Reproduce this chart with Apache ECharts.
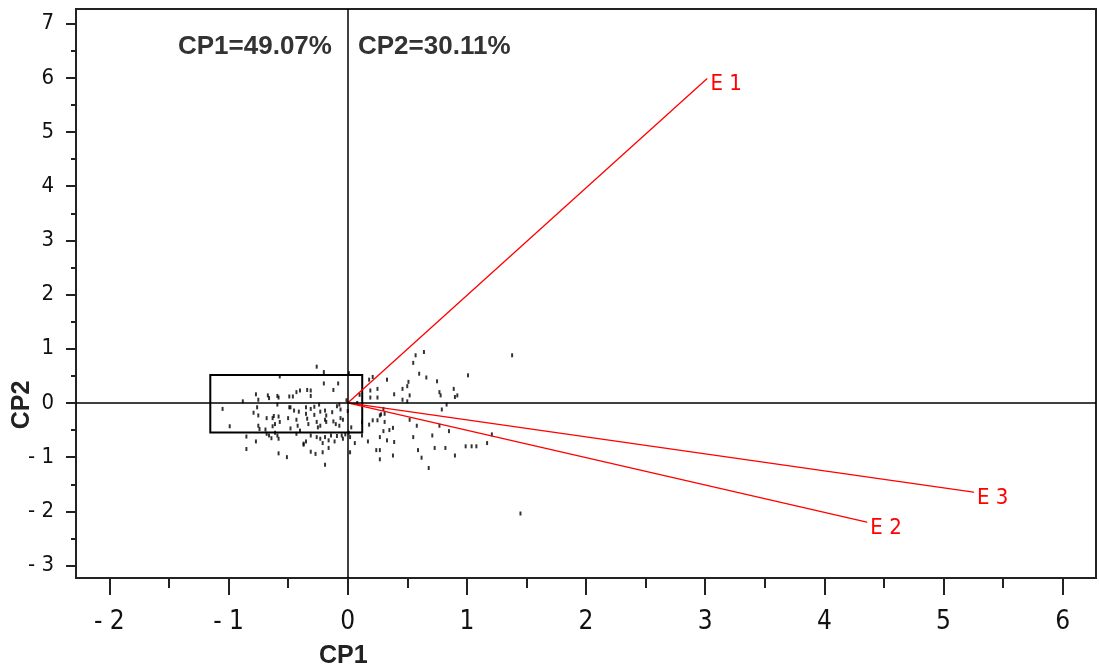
<!DOCTYPE html>
<html>
<head>
<meta charset="utf-8">
<script src="https://cdn.jsdelivr.net/npm/echarts@6/dist/echarts.min.js"></script>
<style>
  html, body { margin: 0; padding: 0; background: #ffffff; }
  #chart { width: 1099px; height: 668px; }
</style>
</head>
<body>
<div id="chart"></div>
<script>
// Axis ticks
const xMajorTicks = [-2, -1, 0, 1, 2, 3, 4, 5, 6];
const xMinorTicks = [-1.5, -0.5, 0.5, 1.5, 2.5, 3.5, 4.5, 5.5];
const yMajorTicks = [-3, -2, -1, 0, 1, 2, 3, 4, 5, 6, 7];
const yMinorTicks = [-2.5, -1.5, -0.5, 0.5, 1.5, 2.5, 3.5, 4.5, 5.5, 6.5];

// Environment vectors (CP1, CP2 loadings)
const vectorNames = ['E 1', 'E 2', 'E 3'];
const vectorCP1 = [3.015, 4.357, 5.252];
const vectorCP2 = [5.983, -2.20, -1.646];

// Highlighted group box
const boxCP1 = [-1.153, 0.122];
const boxCP2 = [-0.545, 0.514];

// Explained variance
const varianceLabels = ['CP1=49.07%', 'CP2=30.11%'];

// Genotype scores [CP1, CP2]
const genotypeScores = [
  [-0.26,0.67],[-0.20,0.57],[-0.57,0.49],[-0.20,0.36],[-0.08,0.36],[-0.12,0.24],[-0.77,0.16],[-0.67,0.14],
  [-0.66,0.09],[-0.59,0.13],[-0.58,0.10],[-0.49,0.12],[-0.46,0.12],[-0.43,0.20],[-0.40,0.23],[-0.34,0.24],
  [-0.31,0.23],[-0.31,0.13],[-0.75,0.06],[-0.88,0.03],[-0.59,-0.03],[-1.05,-0.11],[-0.76,-0.08],[-0.79,-0.18],
  [-0.75,-0.23],[-0.68,-0.28],[-0.63,-0.28],[-0.62,-0.24],[-0.58,-0.25],[-0.49,-0.08],[-0.48,-0.08],[-0.45,-0.14],
  [-0.41,-0.16],[-0.35,-0.08],[-0.31,-0.11],[-0.28,-0.07],[-0.24,-0.03],[-0.23,-0.16],[-0.19,-0.14],[-0.18,-0.23],
  [-0.13,-0.17],[-0.09,-0.06],[-0.07,-0.03],[-0.06,-0.12],[-0.06,-0.28],[-0.04,-0.31],[-0.99,-0.43],[-0.63,-0.43],
  [-0.61,-0.39],[-0.57,-0.35],[-0.50,-0.28],[-0.48,-0.47],[-0.43,-0.31],[-0.42,-0.42],[-0.35,-0.20],[-0.34,-0.29],
  [-0.33,-0.39],[-0.28,-0.22],[-0.26,-0.35],[-0.25,-0.45],[-0.23,-0.42],[-0.19,-0.31],[-0.18,-0.35],[-0.12,-0.34],
  [-0.10,-0.39],[-0.07,-0.42],[-0.85,-0.62],[-0.77,-0.71],[-0.68,-0.57],[-0.64,-0.65],[-0.61,-0.55],[-0.58,-0.66],
  [-0.43,-0.57],[-0.40,-0.51],[-0.37,-0.77],[-0.35,-0.71],[-0.31,-0.60],[-0.26,-0.63],[-0.23,-0.66],[-0.21,-0.74],
  [-0.19,-0.63],[-0.16,-0.69],[-0.14,-0.60],[-0.11,-0.71],[-0.09,-0.61],[-0.05,-0.60],[-0.04,-0.66],[-0.85,-0.85],
  [-0.58,-0.93],[-0.37,-0.75],[-0.31,-0.90],[-0.27,-0.94],[-0.21,-0.91],[-0.16,-0.83],[-0.51,-1.00],[-0.19,-1.14],
  [-0.75,-0.42],[-0.74,-0.48],[-0.66,-0.60],[-0.59,-0.60],[-0.69,-0.49],
  [0.57,0.88],[0.64,0.94],[0.55,0.74],[1.38,0.88],[0.60,0.54],[0.66,0.47],[0.75,0.40],[1.01,0.51],
  [0.21,0.48],[0.18,0.43],[0.33,0.43],[0.51,0.39],[0.50,0.31],[0.46,0.26],[0.52,0.14],[0.39,0.16],
  [0.19,0.23],[0.25,0.26],[0.19,0.10],[0.25,0.10],[0.77,0.20],[0.78,0.14],[0.89,0.26],[0.90,0.11],
  [0.92,0.14],[0.46,0.06],[0.50,0.03],[0.83,-0.03],[0.79,-0.12],[0.30,-0.11],[0.27,-0.23],[0.25,-0.32],
  [0.21,-0.32],[0.18,-0.40],[0.28,-0.21],[0.31,-0.20],[0.31,-0.35],[0.35,-0.50],[0.38,-0.46],[0.30,-0.52],
  [0.27,-0.63],[0.33,-0.69],[0.39,-0.72],[0.52,-0.31],[0.58,-0.42],[0.55,-0.63],[0.77,-0.42],[0.85,-0.52],
  [0.71,-0.60],[1.21,-0.58],[0.17,-0.71],[0.06,-0.74],[0.02,-0.91],[0.24,-0.87],[0.27,-0.87],[0.27,-1.04],
  [0.38,-0.97],[0.59,-0.87],[0.62,-1.01],[0.73,-0.83],[0.82,-0.83],[0.90,-0.97],[0.99,-0.80],[1.04,-0.80],
  [1.08,-0.80],[1.17,-0.74],[0.68,-1.20],[0.02,-0.63],[1.45,-2.04],
  [0.01,0.55],[0.00,-0.15],[0.01,-0.55],[0.03,-0.45],[-0.01,0.05],[0.12,-0.60],[0.10,0.15],[0.12,-0.35],
  [0.08,0.00],[-0.02,-0.58]
];

const tickFont = '"DejaVu Sans Condensed", "Liberation Sans Narrow", "DejaVu Sans", sans-serif';
const boldFont = '"Liberation Sans", Arial, sans-serif';
const axisColor = '#222222';
const fmt = v => (v < 0 ? '- ' + Math.abs(v) : String(v));

const xRange = { min: -2.28, max: 6.28 };
const yRange = { min: -3.23, max: 7.27 };

const chart = echarts.init(document.getElementById('chart'), null, { renderer: 'canvas' });

const vectorSeries = vectorNames.map((name, i) => ({
  name: name,
  type: 'line',
  xAxisIndex: 0,
  yAxisIndex: 0,
  z: 4,
  symbol: 'circle',
  symbolSize: 1,
  showSymbol: true,
  itemStyle: { color: '#ff0000' },
  lineStyle: { color: '#ff0000', width: 1.3 },
  data: [
    [0, 0],
    {
      value: [vectorCP1[i], vectorCP2[i]],
      label: {
        show: true,
        position: 'right',
        distance: 3,
        offset: [0, 6],
        formatter: name,
        color: '#ff0000',
        fontSize: 22,
        fontFamily: tickFont
      }
    }
  ]
}));

const option = {
  animation: false,
  backgroundColor: '#ffffff',
  grid: {
    left: 76, top: 9, width: 1020, height: 569,
    show: true, borderColor: axisColor, borderWidth: 2,
    backgroundColor: 'transparent'
  },
  xAxis: [
    {
      type: 'value', ...xRange, position: 'bottom',
      axisLine: { show: true, onZero: false, lineStyle: { color: axisColor, width: 2 } },
      axisTick: { show: true, customValues: xMajorTicks, length: 17, lineStyle: { color: axisColor, width: 2 } },
      axisLabel: { customValues: xMajorTicks, formatter: fmt, margin: 31, fontSize: 26, color: '#111', fontFamily: tickFont },
      splitLine: { show: false }
    },
    {
      type: 'value', ...xRange, position: 'bottom',
      axisLine: { show: false, onZero: false },
      axisTick: { show: true, customValues: xMinorTicks, length: 10, lineStyle: { color: axisColor, width: 2 } },
      axisLabel: { show: false },
      splitLine: { show: false }
    }
  ],
  yAxis: [
    {
      type: 'value', ...yRange, position: 'left',
      axisLine: { show: true, onZero: false, lineStyle: { color: axisColor, width: 2 } },
      axisTick: { show: true, customValues: yMajorTicks, length: 10, lineStyle: { color: axisColor, width: 2 } },
      axisLabel: { customValues: yMajorTicks, formatter: fmt, margin: 22, fontSize: 22, color: '#111', fontFamily: tickFont },
      splitLine: { show: false }
    },
    {
      type: 'value', ...yRange, position: 'left',
      axisLine: { show: false, onZero: false },
      axisTick: { show: true, customValues: yMinorTicks, length: 5, lineStyle: { color: axisColor, width: 2 } },
      axisLabel: { show: false },
      splitLine: { show: false }
    }
  ],
  graphic: [
    {
      type: 'text', left: 178, top: 34, z: 10,
      style: { text: varianceLabels[0], font: 'bold 26px ' + boldFont, fill: '#333333' }
    },
    {
      type: 'text', left: 358, top: 34, z: 10,
      style: { text: varianceLabels[1], font: 'bold 26px ' + boldFont, fill: '#333333' }
    },
    {
      type: 'text', left: 319, top: 644, z: 10,
      style: { text: 'CP1', font: 'bold 25px ' + boldFont, fill: '#222222' }
    },
    {
      type: 'text', x: 22, y: 405, rotation: Math.PI / 2, z: 10,
      style: { text: 'CP2', font: 'bold 25px ' + boldFont, fill: '#222222', align: 'center', verticalAlign: 'middle' }
    }
  ],
  series: [
    {
      name: 'scores',
      type: 'scatter',
      xAxisIndex: 0,
      yAxisIndex: 0,
      z: 3,
      symbol: 'rect',
      symbolSize: [2, 4],
      itemStyle: { color: '#000000' },
      data: genotypeScores,
      markLine: {
        silent: true,
        symbol: ['none', 'none'],
        label: { show: false },
        lineStyle: { color: '#000000', width: 1.5, type: 'solid' },
        data: [{ xAxis: 0 }, { yAxis: 0 }]
      },
      markArea: {
        silent: true,
        itemStyle: { color: 'rgba(0,0,0,0)', borderColor: '#000000', borderWidth: 2 },
        data: [[
          { coord: [boxCP1[0], boxCP2[1]] },
          { coord: [boxCP1[1], boxCP2[0]] }
        ]]
      }
    },
    ...vectorSeries
  ]
};

chart.setOption(option);
</script>
</body>
</html>
